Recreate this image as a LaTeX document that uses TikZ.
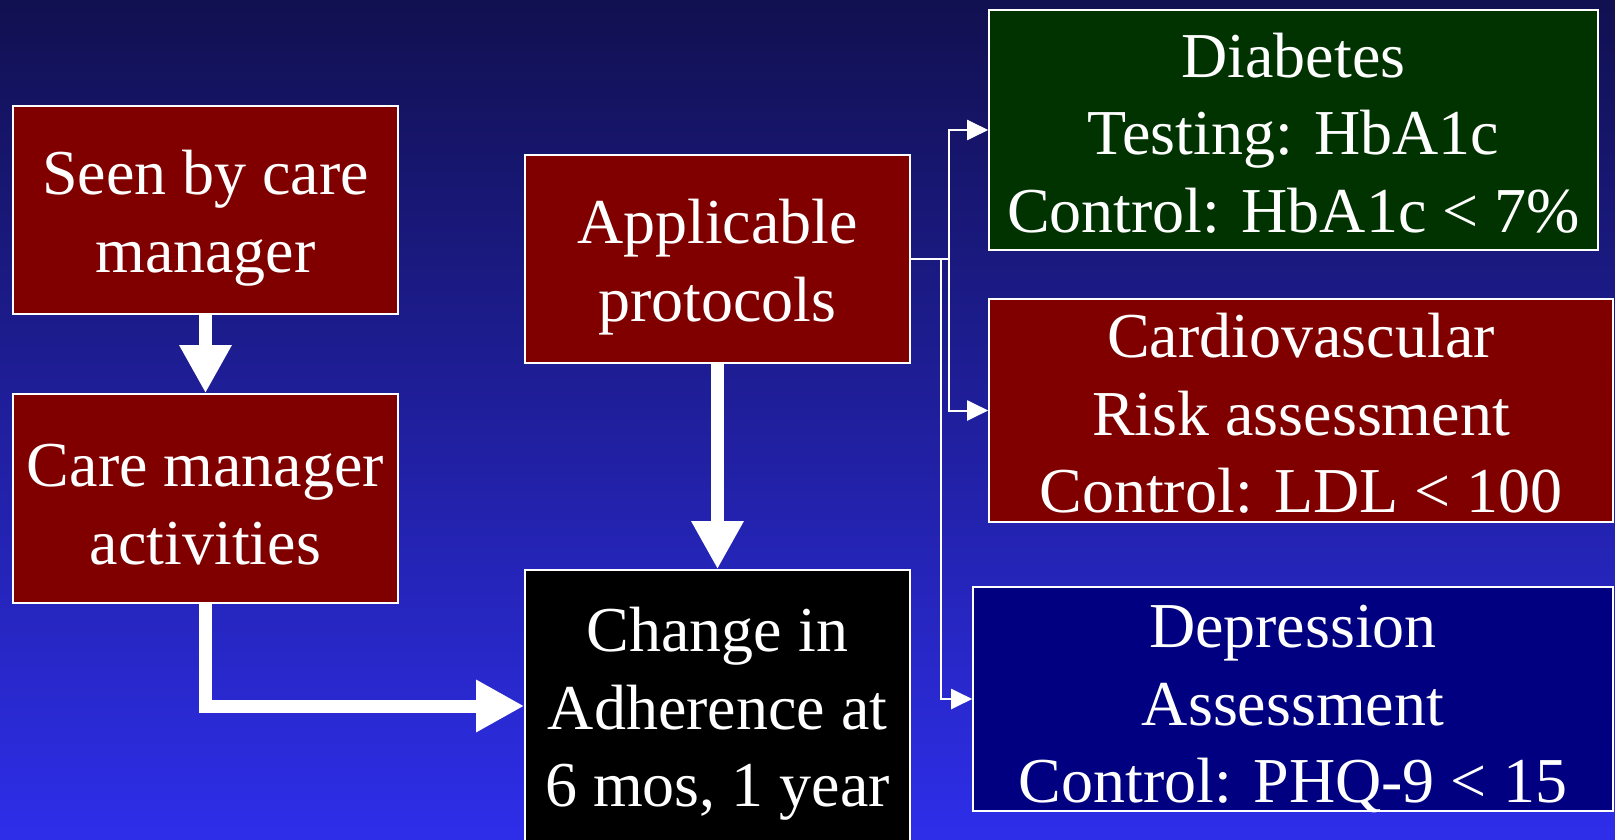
\documentclass[tikz,border=0pt]{standalone}
\usepackage{fontspec}
\setmainfont{Liberation Serif}
\usetikzlibrary{arrows.meta}
\definecolor{bgtop}{RGB}{17,16,80}
\definecolor{bgbot}{RGB}{46,46,234}
\definecolor{boxred}{RGB}{128,0,0}
\definecolor{boxgreen}{RGB}{0,51,0}
\definecolor{boxnavy}{RGB}{0,0,128}
\begin{document}
\begin{tikzpicture}[x=1pt,y=-1pt,
  box/.style={draw=white,line width=1.6pt,inner sep=0pt},
  txt/.style={inner sep=0pt,text=white,align=center,
    font=\fontsize{64}{77.5}\selectfont},
  fat/.style={draw=white,line width=13pt,-{Triangle[width=49pt,length=48pt]}},
  thinarrow/.style={draw=white,line width=2pt,-{Triangle[width=20pt,length=21pt]}},
  thinline/.style={draw=white,line width=2pt}]
\fill[top color=bgtop,bottom color=bgbot] (0,0) rectangle (1615,840);
\useasboundingbox (0,0) rectangle (1615,840);
\begin{scope}
\clip (0,0) rectangle (1615,840);
\node[box,fill=boxred,minimum width=385pt,minimum height=208pt] (A) at (205.5,210) {};
\node[box,fill=boxred,minimum width=385pt,minimum height=209pt] (B) at (205.5,498.5) {};
\node[box,fill=boxred,minimum width=385pt,minimum height=208pt] (C) at (717.5,259) {};
\node[box,fill=black,minimum width=385pt,minimum height=290pt] (D) at (717.5,715) {};
\node[box,fill=boxgreen,minimum width=609pt,minimum height=240pt] (E) at (1293.5,130) {};
\node[box,fill=boxred,minimum width=624pt,minimum height=223pt] (F) at (1301,410.5) {};
\node[box,fill=boxnavy,minimum width=640pt,minimum height=224pt] (G) at (1293,699) {};
\node[txt] (At) at ([yshift=-8pt]A.center) {Seen by care\\manager};
\node[txt] (Bt) at ([yshift=-6pt]B.center) {Care manager\\activities};
\node[txt] (Ct) at ([yshift=-8pt]C.center) {Applicable\\protocols};
\node[txt] (Dt) at ([yshift=1pt]D.center) {Change in\\Adherence at\\6 mos, 1 year};
\node[txt] (Et) at ([yshift=-3pt]E.center) {Diabetes\\Testing: HbA1c\\Control: HbA1c < 7\%};
\node[txt] (Ft) at ([yshift=-3pt]F.center) {Cardiovascular\\Risk assessment\\Control: LDL < 100};
\node[txt] (Gt) at ([yshift=-10pt]G.center) {Depression\\Assessment\\Control: PHQ-9 < 15};
\end{scope}
\draw[fat] (A.south) -- (B.north);
\draw[fat] (C.south) -- (D.north);
\draw[fat] (B.south) |- (D.west |- 0,706);
\coordinate (j1) at (949,259);
\coordinate (j2) at (941,259);
\draw[thinline] (C.east) -- (j1);
\draw[thinarrow] (j1) |- (E.west);
\draw[thinarrow] (j1) |- (F.west);
\draw[thinarrow] (j2) |- (G.west);
\end{tikzpicture}
\end{document}
